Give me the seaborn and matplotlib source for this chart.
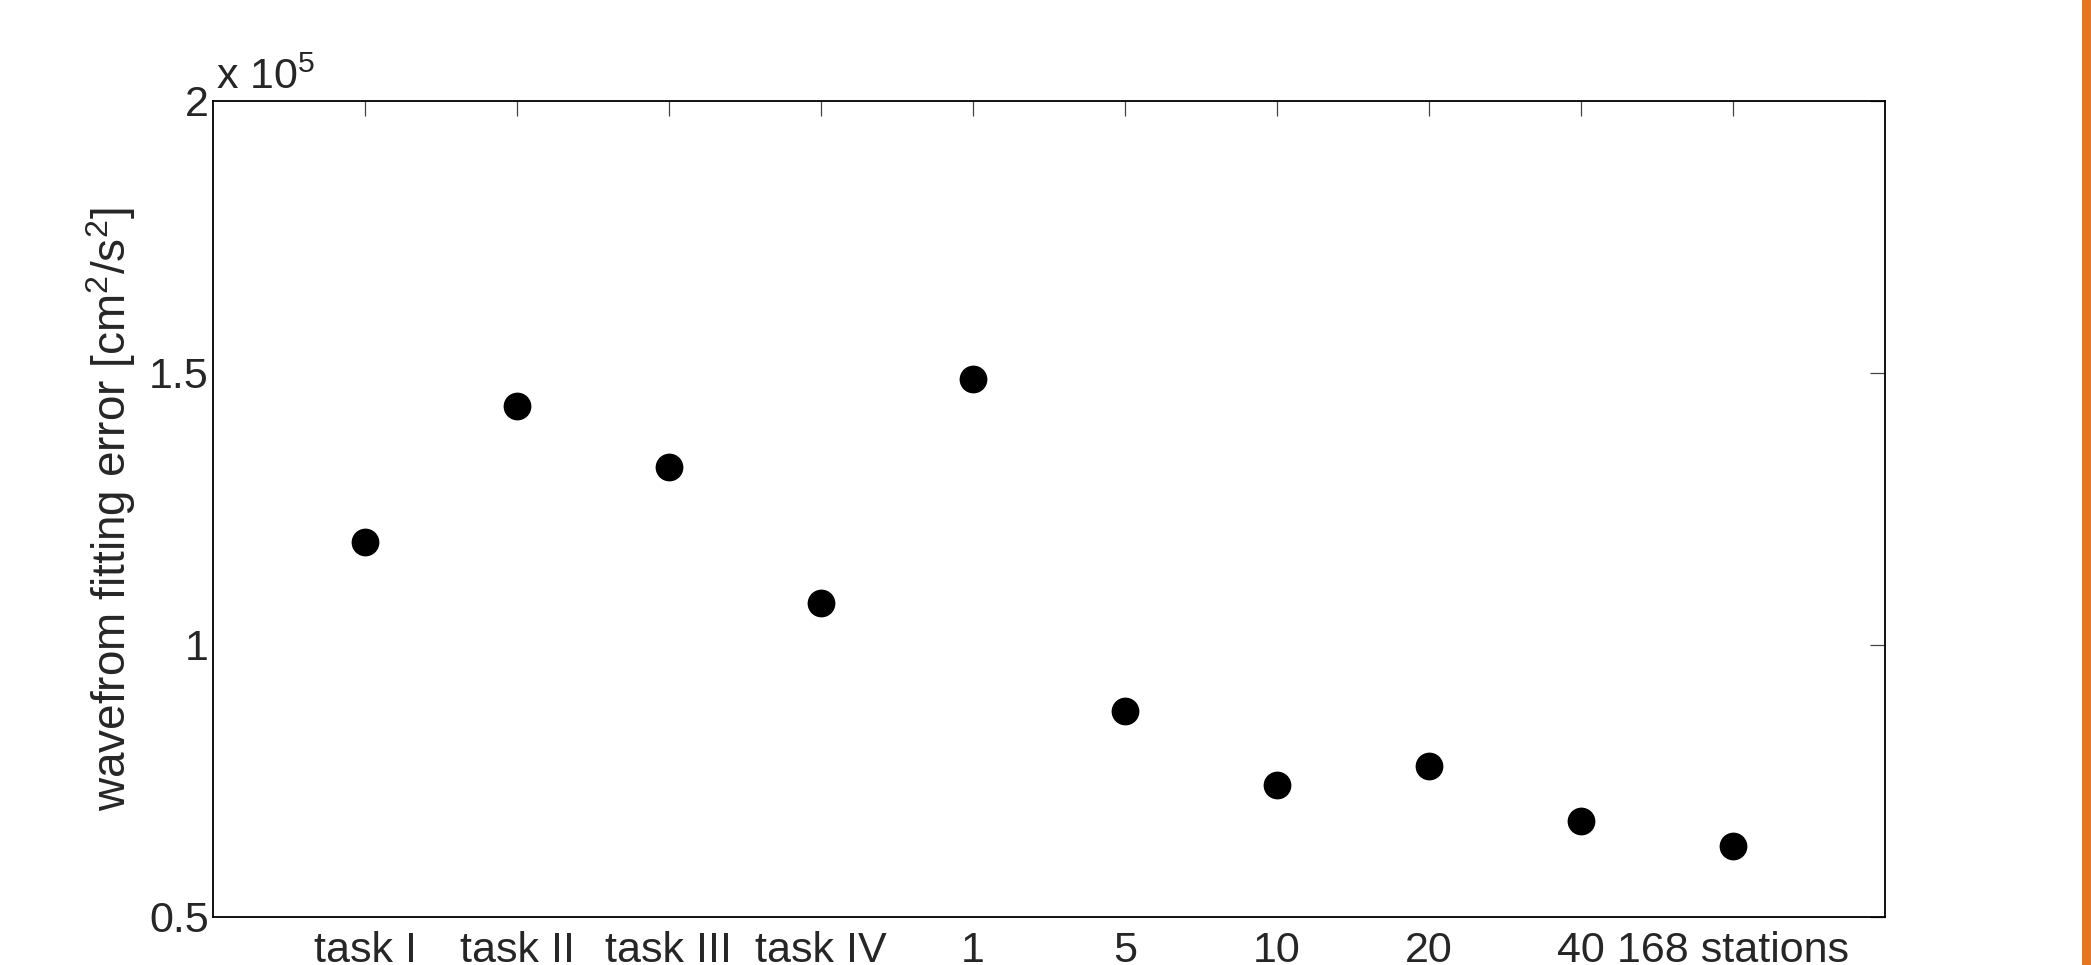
import matplotlib
matplotlib.use("Agg")
import matplotlib.pyplot as plt
import seaborn as sns
import pandas as pd
from matplotlib.patches import Rectangle

# ---- data ----
categories = ["task I", "task II", "task III", "task IV", "1", "5", "10", "20", "40", "168 stations"]
positions = [1, 2, 3, 4, 5, 6, 7, 8, 9, 10]
errors = [1.190e5, 1.440e5, 1.327e5, 1.077e5, 1.489e5, 0.879e5, 0.742e5, 0.777e5, 0.676e5, 0.630e5]
ytick_vals = [0.5e5, 1.0e5, 1.5e5, 2.0e5]
ytick_labels = ["0.5", "1", "1.5", "2"]

df = pd.DataFrame({"pos": positions, "err": errors})

sns.set_theme(style="white")
plt.rcParams["font.family"] = ["Liberation Sans", "DejaVu Sans"]
plt.rcParams["mathtext.fontset"] = "custom"
plt.rcParams["mathtext.rm"] = "Liberation Sans"
plt.rcParams["mathtext.it"] = "Liberation Sans:italic"

fig = plt.figure(figsize=(20.91, 9.65), dpi=100)
ax = fig.add_axes([213 / 2091, 1 - 917 / 965, (1885 - 213) / 2091, (917 - 101) / 965])

sns.scatterplot(data=df, x="pos", y="err", ax=ax, color="black", s=400,
                edgecolor="black", linewidth=0, legend=False)

ax.set_xlim(0, 11)
ax.set_ylim(0.5e5, 2.0e5)
ax.set_xticks(positions)
ax.set_xticklabels(categories)
ax.set_yticks(ytick_vals)
ax.set_yticklabels(ytick_labels)
ax.set_xlabel("")
ax.set_ylabel("wavefrom fitting error [cm$^2$/s$^2$]", fontsize=33, labelpad=8)

for sp in ax.spines.values():
    sp.set_visible(True)
    sp.set_color("black")
    sp.set_linewidth(1.3)

ax.tick_params(axis="both", which="both", direction="in", length=11, width=0.9,
               color="#444444", top=True, right=True, labelsize=31)
ax.tick_params(axis="x", pad=10)
ax.tick_params(axis="y", pad=3)

ax.text(0.002, 1.004, "x 10$^5$", transform=ax.transAxes, fontsize=31,
        ha="left", va="bottom")

# orange vertical strip on the right edge
fig.patches.append(Rectangle((2082 / 2091, 0), 9 / 2091, 1, transform=fig.transFigure,
                             facecolor="#E37627", edgecolor="none"))

fig.savefig("out.png", dpi=100)
